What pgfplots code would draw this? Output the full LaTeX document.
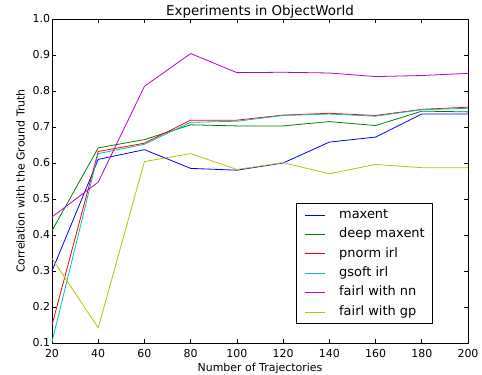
\documentclass[border=0pt]{standalone}
\usepackage{pgfplots}
\pgfplotsset{compat=1.18}
\usepackage{fontspec}
\setmainfont{DejaVu Sans}

\definecolor{mblue}{rgb}{0,0,1}
\definecolor{mgreen}{rgb}{0,0.5,0}
\definecolor{mred}{rgb}{1,0,0}
\definecolor{mcyan}{rgb}{0,0.75,0.75}
\definecolor{mmagenta}{rgb}{0.75,0,0.75}
\definecolor{myellow}{rgb}{0.75,0.75,0}

\begin{document}
\begin{tikzpicture}
\begin{axis}[
  name=ax,
  scale only axis,
  width=416bp, height=324bp,
  xmin=20, xmax=200, ymin=0.1, ymax=1.0,
  xtick={20,40,...,200},
  ytick={0.1,0.2,...,1.0},
  yticklabel style={/pgf/number format/fixed,
    /pgf/number format/fixed zerofill,
    /pgf/number format/precision=1, xshift=1.5bp},
  xticklabel style={yshift=-2.5bp},
  /pgf/number format/assume math mode=true,
  tick align=inside,
  major tick length=4bp,
  minor tick num=0,
  tick style={black, line width=0.6pt},
  axis line style={black, line width=0.8pt},
  ticklabel style={font=\fontsize{11}{13}\selectfont},
  label style={font=\fontsize{11}{13}\selectfont},
  xlabel={Number of Trajectories},
  ylabel={Correlation with the Ground Truth},
  xlabel style={yshift=1bp},
  ylabel style={yshift=1bp},
  title={Experiments in ObjectWorld},
  title style={font=\fontsize{13.5}{16}\selectfont, yshift=-8.5bp},
  every axis plot/.append style={line width=0.8pt},
  legend cell align=left,
  legend style={at={(0.916,0.06)}, anchor=south east,
    draw=black, line width=0.6pt, fill=white,
    font=\fontsize{13}{15}\selectfont,
    inner xsep=8bp, inner ysep=5bp,
    nodes={inner sep=0pt, text height=9.5bp, text depth=3bp},
    row sep=6.9bp,
    /tikz/every odd column/.append style={column sep=14bp}},
  legend image code/.code={\draw[#1] (0bp,0bp) -- (20bp,0bp);},
]
\addplot[mblue] coordinates {(20,0.300) (40,0.610) (60,0.637) (80,0.585) (100,0.580) (120,0.600) (140,0.658) (160,0.672) (180,0.736) (200,0.736)};
\addlegendentry{maxent}
\addplot[mgreen] coordinates {(20,0.412) (40,0.642) (60,0.665) (80,0.706) (100,0.703) (120,0.703) (140,0.715) (160,0.704) (180,0.744) (200,0.742)};
\addlegendentry{deep maxent}
\addplot[mred] coordinates {(20,0.150) (40,0.632) (60,0.655) (80,0.719) (100,0.719) (120,0.733) (140,0.738) (160,0.732) (180,0.749) (200,0.755)};
\addlegendentry{pnorm irl}
\addplot[mcyan] coordinates {(20,0.103) (40,0.626) (60,0.652) (80,0.713) (100,0.716) (120,0.732) (140,0.736) (160,0.730) (180,0.748) (200,0.752)};
\addlegendentry{gsoft irl}
\addplot[mmagenta] coordinates {(20,0.450) (40,0.547) (60,0.813) (80,0.904) (100,0.851) (120,0.852) (140,0.850) (160,0.840) (180,0.843) (200,0.849)};
\addlegendentry{fairl with nn}
\addplot[myellow] coordinates {(20,0.335) (40,0.142) (60,0.604) (80,0.626) (100,0.582) (120,0.601) (140,0.570) (160,0.596) (180,0.587) (200,0.587)};
\addlegendentry{fairl with gp}
\end{axis}
\pgfresetboundingbox
\path ([xshift=-52bp,yshift=-32bp]ax.south west) rectangle ([xshift=14bp,yshift=19bp]ax.north east);
\end{tikzpicture}
\end{document}
